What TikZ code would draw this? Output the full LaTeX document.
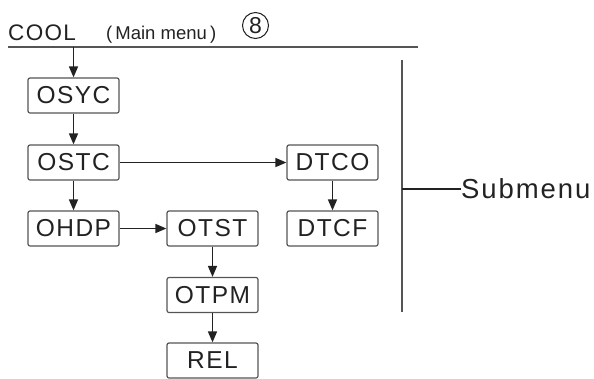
\documentclass[tikz,border=0pt]{standalone}
\usepackage{fontspec}
\setmainfont{Liberation Sans}
\newfontfamily\wide[LetterSpace=6]{Liberation Sans}
\newfontfamily\wider[LetterSpace=7]{Liberation Sans}
\usetikzlibrary{arrows.meta}
\definecolor{ink}{HTML}{222222}
\definecolor{rule}{HTML}{555555}
\tikzset{
  menubox/.style={draw=rule, line width=1.2pt, rounded corners=2pt, minimum width=91pt, minimum height=35pt, inner sep=0pt, text=ink, font=\wide\fontsize{24.5}{28}\selectfont},
  flow/.style={draw=ink, line width=1.5pt, -{Triangle[length=11pt,width=9pt]}},
  heavy/.style={draw=rule, line width=2pt}
}
\begin{document}
\begin{tikzpicture}[x=1pt,y=-1pt]
\useasboundingbox (0,0) rectangle (594,378);
% header
\node[anchor=base west, inner sep=0pt, text=ink, font=\wide\fontsize{22.5}{26}\selectfont] (cool) at (8,40) {COOL};
\node[anchor=base west, inner sep=0pt, text=ink, font=\fontsize{18.5}{22}\selectfont] (mm) at (106,39) {(\,Main menu\,)};
\node[circle, draw=ink, line width=1pt, minimum size=26pt, inner sep=0pt, text=ink, font=\fontsize{23}{26}\selectfont] (eight) at (255.5,25.5) {8};
\coordinate (lineL) at (8,47);
\coordinate (lineR) at (418,47);
\draw[heavy] (lineL) -- (lineR);
\coordinate (top) at (73.5,47);
% boxes
\node[menubox] (osyc) at (73.5,95.5) {OSYC};
\node[menubox] (ostc) at (73.5,162.5) {OSTC};
\node[menubox] (ohdp) at (73.5,228.5) {OHDP};
\node[menubox] (otst) at (212.5,228.5) {OTST};
\node[menubox] (otpm) at (212.5,295) {OTPM};
\node[menubox] (rel) at (212.5,360.5) {REL};
\node[menubox] (dtco) at (332.5,162.5) {DTCO};
\node[menubox] (dtcf) at (332.5,228.5) {DTCF};
% connectors
\draw[flow] (top) -- (osyc.north);
\draw[flow] (osyc) -- (ostc);
\draw[flow] (ostc) -- (ohdp);
\draw[flow] (ostc) -- (dtco);
\draw[flow] (ohdp) -- (otst);
\draw[flow] (otst) -- (otpm);
\draw[flow] (otpm) -- (rel);
\draw[flow] (dtco) -- (dtcf);
% submenu bracket
\coordinate (vT) at (402,60);
\coordinate (vB) at (402,312);
\coordinate (vM) at (402,189);
\draw[heavy] (vT) -- (vB);
\node[anchor=west, inner sep=0pt, text=ink, font=\wider\fontsize{27.5}{30}\selectfont] (sub) at (461,189) {Submenu};
\draw[draw=ink, line width=1.4pt] (vM) -- (sub.west);
\end{tikzpicture}
\end{document}
